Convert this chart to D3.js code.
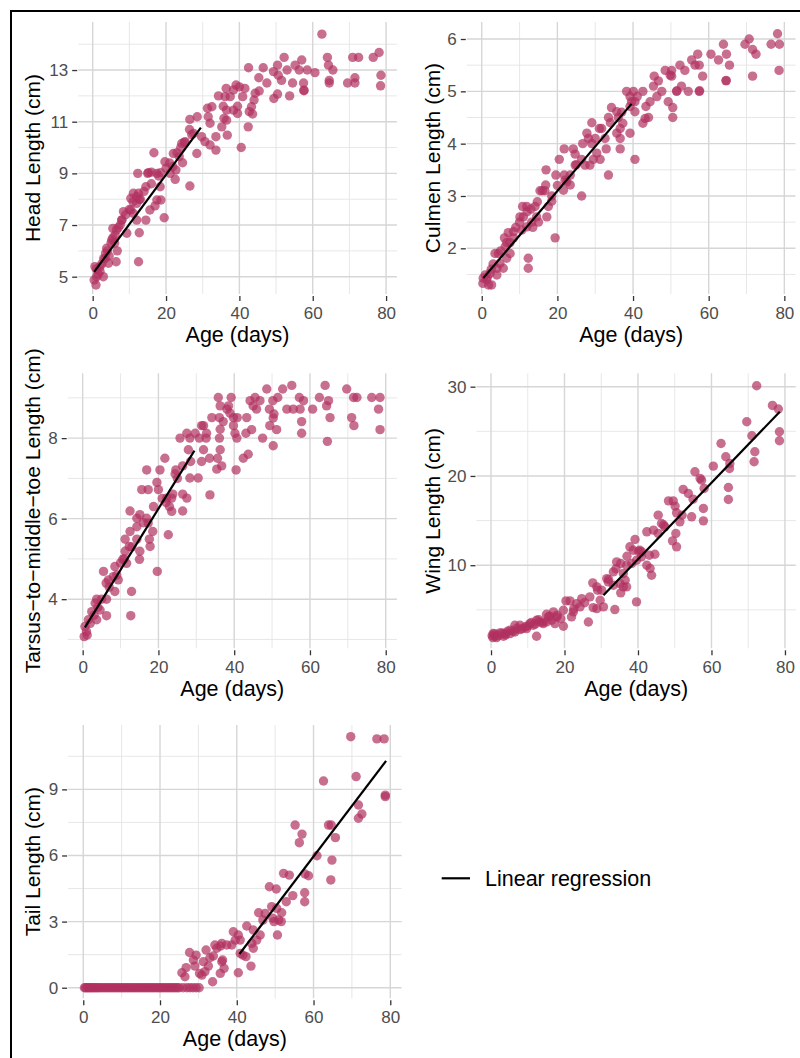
<!DOCTYPE html>
<html>
<head>
<meta charset="utf-8">
<script src="https://cdn.jsdelivr.net/npm/d3@7"></script>
<style>
  body { margin: 0; background: #fff; }
  svg { display: block; font-family: "Liberation Sans", Arial, Helvetica, sans-serif; }
</style>
</head>
<body>
<div id="chart"></div>
<script>
// ---- data: [age (days), length (cm)] ----
const headData = [
  [62.5,14.39],[78.1,13.68],[76.5,13.49],[70.9,13.49],[72.5,13.49],[52.2,13.49],[57,13.39],[64,13.49],
  [64.3,13.19],[65.5,13],[78.6,12.8],[78.5,12.39],[71.5,12.7],[71.5,12.5],[69.5,12.5],[64.5,12.6],
  [64.5,12.5],[60.6,12.9],[58.5,13],[56.3,13],[55.2,13.19],[53,13],[50.4,13.19],[49.3,12.94],
  [51.5,12.6],[50.6,12.8],[57.5,12.5],[57.6,12.2],[57.6,12.22],[54.5,12.5],[53.7,12],[50.4,12.07],
  [49.4,11.9],[47.5,12.5],[46.5,13.09],[45.3,12.7],[42.5,13.09],[45.4,12.19],[44.3,12.1],[44,11.84],
  [43.3,11.58],[42.7,11.39],[43.6,11.3],[42.4,10.8],[40.5,10],[41.5,12.29],[40.9,11.97],[40,12.35],
  [39.1,12.42],[38.4,12.23],[39.5,11.6],[39.5,11.32],[38.4,11.45],[37.5,11.97],[36.4,12.29],[36.1,11.97],
  [34.3,12],[35.6,11.6],[36.5,11.45],[35.8,11.13],[36.5,11.06],[35.2,10.8],[36.7,10.48],[33.6,10.42],
  [33.6,9.9],[32.5,11.58],[31.3,11.52],[31.5,11.19],[32,10.94],[29.7,10.42],[30.6,10.23],[32,10.1],
  [28.4,9.77],[26.5,11.09],[28.5,11.19],[26.4,10.7],[27.5,10.55],[26.5,8.51],[25.2,10.23],[24.3,10.16],
  [24.5,9.41],[23.6,9.65],[22,9.77],[21.8,9.26],[22.7,9.13],[22.5,8.77],[21.1,9],[19.7,9.45],
  [16.7,9.8],[19.5,7.28],[18.5,9.03],[17.5,9],[15.2,9.03],[12.3,9],[14.5,8.48],[18.4,8.48],
  [18.6,7.97],[17.5,7.97],[17,7.74],[15.6,7.58],[14.5,7.19],[12.7,7.99],[12.5,8.23],[11.1,8.23],
  [10.4,8.03],[12,7.84],[10.4,7.58],[11.1,7.45],[12,7.19],[12.7,6.7],[12.5,5.58],[8.4,7.52],
  [7.9,7.19],[9.3,6.68],[6.5,6.81],[5.5,6.87],[6.1,6.61],[5.2,6.42],[6.7,6],[6.4,5.58],
  [3.8,6.1],[3.4,5.71],[4.3,5.52],[2,5.39],[0.6,5.39],[1.1,5],[2.9,5],[0.4,4.87],[0.9,4.68],
  [1,5.3],[1.5,5.1],[2,5.2],[2.5,5.5],[3,5.7],[3.5,5.9],[4,6.0],[4.5,5.8],[5,6.3],[5.5,6.5],
  [6,6.3],[7,6.9],[7.5,7.0],[8,7.2],[9,7.4],[10,7.6],[11,7.9],[12,8.1],[13,8.0],[14,8.3],
  [16,8.6],[18,8.9],[20,9.2],[21,9.4],[23,9.8],[24,10.0],[25,10.2],[27,10.5],[15,9.0],[16,9.05]
];
const culmenData = [
  [78.2,6.1],[70.7,6.0],[69.6,5.9],[76.5,5.9],[78.7,5.9],[63.9,5.9],[71.6,5.8],[72.5,5.71],
  [78.6,5.4],[71.6,5.29],[60.6,5.71],[57.1,5.71],[62.6,5.6],[64.7,5.71],[65.5,5.5],[64.6,5.2],
  [64.6,5.21],[55.5,5.6],[56.4,5.5],[57.5,5.5],[58.4,5.29],[52.4,5.5],[53.7,5.4],[50.2,5.4],
  [48.5,5.4],[49.8,5.31],[50.2,5.29],[45.6,5.29],[46.7,5.2],[52.8,5.1],[51.5,5.0],[51.6,5.01],
  [54.6,5.0],[57.5,5.0],[57.6,5.01],[45.4,5.1],[47.6,5.0],[46.3,4.9],[44.5,4.8],[43.4,4.71],
  [44.1,4.5],[43.2,4.48],[42.6,4.39],[49.3,4.8],[50.5,4.69],[50.5,4.5],[38.3,5.0],[39.2,4.9],
  [40.1,5.0],[41.1,4.9],[42.6,5.0],[39.6,4.8],[40.5,4.8],[39.2,4.71],[40.5,4.61],[39.2,4.2],
  [40.5,3.7],[34.3,4.69],[35.7,4.61],[36.1,4.5],[37.3,4.39],[36.6,4.29],[35.7,4.2],[36.6,4.1],
  [36.6,3.9],[33.5,4.5],[31.7,4.29],[31.1,4.29],[32.6,4.1],[32.9,3.9],[33.5,3.4],[29.1,4.4],
  [27.8,4.2],[28.2,4.1],[26.7,4.0],[29.1,4.0],[30.4,3.82],[31.3,3.7],[29.5,3.7],[26.4,3.7],
  [27.3,3.59],[28.6,3.59],[26.4,3.0],[24.2,3.9],[24.7,3.8],[21.8,3.9],[20.5,3.7],[24.7,3.59],
  [23.4,3.4],[21.8,3.4],[22.5,3.27],[23.4,3.21],[21.6,3.11],[19.6,3.4],[17,3.5],[16.9,3.21],
  [15.4,3.1],[16.7,3.1],[18.5,3.0],[18.5,2.9],[17.6,2.8],[17.2,2.6],[14.7,2.89],[14.1,2.8],
  [14.5,2.6],[15,2.5],[13.2,2.5],[11.9,2.8],[10.8,2.8],[10.1,2.6],[11.9,2.41],[10.6,2.35],
  [13.5,2.4],[19.4,2.2],[12.3,1.81],[12.3,1.62],[8.4,2.32],[8.4,2.2],[7.5,2.11],[6.6,2.11],
  [6.2,2.03],[7.5,1.9],[6.6,1.81],[3.5,1.9],[4.4,1.9],[4.8,1.71],[5.7,1.62],[4,1.62],
  [2.2,1.52],[4,1.49],[0.9,1.49],[1.3,1.4],[0.3,1.33],[1.8,1.3],[2.6,1.3],[0.4,1.43],
  [1.5,1.45],[2.5,1.6],[3,1.7],[5,1.95],[6,2.2],[7,2.3],[9,2.4],[10,2.5],[11,2.6],[12,2.7],
  [13,2.75],[16,3.1],[20,3.2],[22,3.3],[25,3.6],[30,4.1],[34,4.4],[37,4.6]
];
const tarsusData = [
  [55.2,9.31],[64,9.31],[69.7,9.22],[48.6,9.22],[52.8,9.22],[71.5,9.01],[72.4,9.01],[76.3,9.01],
  [78.5,9.01],[78.1,8.72],[78.5,8.21],[71,8.51],[71.6,8.31],[62.5,9.01],[64.9,8.93],[64.4,8.8],
  [65.3,8.51],[64.6,7.92],[60.7,8.72],[58.3,8.93],[57.2,9.01],[57.4,8.72],[55.6,8.72],[53.9,8.72],
  [57.8,8.41],[57.8,8.12],[51.5,9.01],[50.2,8.93],[49.3,8.72],[50.5,8.6],[50.3,8.5],[49.4,8.31],
  [51.2,8.21],[50.3,7.81],[47.5,8.0],[45.5,9.01],[44.2,8.93],[46.8,8.93],[45.9,8.72],[45,8.8],
  [43.3,8.51],[44.6,8.21],[43.1,8.12],[43.7,7.6],[42.4,7.5],[40.5,7.21],[40.8,8.51],[39.8,8.51],
  [39.2,9.01],[38.9,8.62],[38.5,8.8],[38.1,8.72],[39.8,8.31],[40.7,8.0],[40.2,8.12],[35.8,9.01],
  [36.3,8.8],[37.1,8.41],[36.1,8.51],[34.1,8.51],[36.3,8.22],[36.1,8.0],[36.3,7.71],[36.7,7.31],
  [35.4,7.23],[35.6,7.5],[33.5,7.5],[33.6,6.59],[31.4,8.31],[31.9,8.31],[32.7,8.12],[32.6,8.0],
  [30.8,8.0],[31.9,7.71],[31.4,7.42],[30.5,7.01],[29.7,8.12],[28.3,8.0],[27.5,8.12],[25.7,8.0],
  [28.3,7.01],[28.5,7.42],[27.9,7.71],[26.4,7.31],[24.6,7.21],[24.4,7.11],[26.4,6.61],[27.5,6.51],
  [26.4,6.19],[23.8,6.61],[23.5,6.51],[22.9,6.3],[23.5,6.18],[21.7,7.5],[20.4,7.21],[19.6,6.9],
  [20,6.72],[18.7,6.3],[22.2,6.51],[16.9,7.21],[17.3,6.72],[15.6,6.72],[15.1,6.1],[16.9,6.01],
  [17.3,5.89],[18.5,5.68],[17.6,5.49],[17.8,5.31],[22.6,5.6],[19.7,4.69],[12.5,6.19],[14.3,6.01],
  [14.3,5.8],[12.5,5.68],[11.2,5.49],[12.3,5.31],[14.3,5.49],[15.1,5.19],[15,4.99],[11.2,5.19],
  [10.6,4.99],[11.6,4.89],[8.5,4.81],[9.4,4.48],[8.1,4.56],[6.8,4.48],[5.5,4.69],[6.2,4.4],
  [6.3,4.0],[8.5,4.19],[12.9,4.19],[12.7,3.59],[6.3,3.59],[3.7,4.0],[3.3,3.9],[4.6,3.73],
  [2.4,3.69],[3.7,3.49],[1.5,3.49],[0.6,3.32],[1.2,3.11],[0.4,3.07],[1,3.2],[2,3.4],[3,3.6],
  [4,3.8],[5,4.0],[7,4.3],[9,4.6],[10,4.9],[11,5.0],[13,5.3],[16,5.9],[21,6.5],[22,6.4],[25,7.0]
];
const wingData = [
  [72.3,30.1],[76.6,27.9],[78.2,27.5],[78.5,24.95],[78.5,23.94],[69.6,26.07],[71,24.5],[71.8,22.71],
  [71.6,21.59],[62.6,23.64],[63.9,22.15],[65,21.4],[64.9,20.84],[64.6,18.71],[64.6,17.36],[60.5,21.1],
  [55.5,20.47],[56.9,19.72],[57.3,19.53],[58,18.6],[57.8,16.36],[57.8,14.97],[52.3,18.49],[53.7,18.04],
  [54.6,15.42],[48.3,17.21],[49.6,17.21],[50.1,16.62],[50.5,15.87],[51.4,14.86],[50.3,13.55],[49.4,12.73],
  [50.5,12.06],[45.5,15.61],[46.4,14.67],[47.3,14.3],[44.2,13.93],[42.4,13.74],[45.5,13.55],[44.6,11.23],
  [43.1,11.12],[42.4,10],[43.3,9.63],[43.7,8.88],[39.6,5.89],[39.2,12.88],[37.8,12.06],[38.7,11.68],
  [40.1,11.57],[40.5,11.68],[40.9,10.93],[39.6,10.56],[38.3,10.19],[36.9,10],[34.2,10.37],[35.3,10.19],
  [33.3,9.25],[36,9.07],[36.5,8.32],[35.1,7.94],[36,7.57],[36.9,7.57],[35.3,6.9],[31.5,8.5],
  [31.9,8.13],[33.3,7.76],[33.7,5.03],[27.7,8.02],[28.8,7.57],[30.1,7.2],[29.7,6.07],[28.8,5.14],
  [26.9,6.45],[27.8,5.25],[30.6,5.33],[26.5,3.64],[24.7,6.26],[23.3,5.7],[24.2,5.33],[22.4,4.77],
  [21.5,6.0],[21.9,4.21],[20.4,6.0],[19.7,4.95],[19.7,3.16],[17.9,4.21],[17,4.77],[16.5,3.83],
  [17.4,3.46],[15.6,4.21],[15.1,3.64],[13.3,3.64],[12.4,3.83],[11.5,3.27],[12.4,2.04],[10.6,3.46],
  [9.3,3.08],[7.9,2.78],[6.5,3.27],[6.5,2.52],[5.2,2.71],[3.8,2.34],[2.4,2.41],[1.1,2.04],
  [0.6,2.34],[0.5,1.89],[1.5,1.89],[3.4,2.04],[5.2,2.34],[7.9,3.27],[9.7,2.9],[14.2,3.46],
  [15.1,4.5],[0.3,2.1],[1,2.3],[2,2.1],[3,2.4],[4,2.2],[4.5,2.6],[6,2.6],[7,2.9],[8.5,2.9],
  [10,3.2],[11,3.6],[12,3.4],[13,3.9],[14,3.6],[16,4.3],[18,4.4],[19,4.0],[22.5,5.1],[25.5,5.8],
  [29,7.2],[32,8.4],[34,9.6],[37,11.0],[41,11.5],[47,14.5],[52,15.6],[55,17.4]
];
const tailZeroAges = [
  0.3,0.6,1,1.3,1.7,2,2.4,2.8,3.2,3.6,4,4.5,5,5.5,6,6.5,7,7.5,8,8.5,9,9.5,10,10.5,11,11.5,
  12,12.5,13,13.5,14,14.5,15,15.5,16,16.5,17,17.5,18,18.5,19,19.5,20,20.5,21,21.5,22,22.5,
  23,23.5,24,24.5,25,26,27,27.8,28.6,29.4,30.2
];
const tailData = [
  [69.7,11.39],[76.5,11.29],[78.4,11.29],[71.1,9.58],[62.6,9.38],[78.7,8.74],[78.7,8.67],[71.7,8.29],
  [72.6,7.88],[71.7,7.69],[55.2,7.38],[57,6.97],[56.3,6.58],[63.9,7.38],[64.6,7.38],[65.7,6.81],
  [60.9,5.99],[64.8,5.79],[64.5,4.89],[52.2,5.19],[53.7,5.11],[57.8,5.16],[58.7,5.08],[48.5,4.58],
  [50.3,4.48],[54.6,4.18],[52.9,3.9],[57.7,4.31],[57.7,3.9],[45.7,3.4],[47.4,3.37],[49.1,3.68],
  [50.4,3.6],[51.7,3.4],[49.4,3.15],[50.9,3.07],[49.7,3.0],[51.6,3.0],[46.8,3.07],[50.6,2.39],
  [42.6,2.8],[44.3,2.62],[46.1,2.39],[45.2,2.16],[43.9,2.01],[44.3,1.79],[43.7,0.98],[42.4,1.41],
  [39.1,2.54],[40.4,2.39],[40.9,2.16],[39.6,2.16],[38.7,1.94],[40.9,1.56],[41.6,1.48],[40.4,0.68],
  [36.1,2.01],[37.4,1.94],[35.7,1.89],[34.8,1.79],[36.3,1.26],[36.1,1.18],[36.7,0.88],[35.7,0.65],
  [34.3,1.94],[33.9,1.44],[33,1.36],[33.7,0.27],[32,1.71],[31.3,1.18],[32.6,0.98],[30.9,0.57],
  [30.3,0.65],[31.7,0.73],[29.4,1.48],[28.7,1.26],[29.1,0.98],[27.7,1.6],[26.8,0.91],[25.7,0.68],
  [26.5,0.5]
].concat(tailZeroAges.map(a => [a, 0]));

// regression segments (endpoints)
const headFit   = [[0.4,5.19],[29.5,10.77]];
const culmenFit = [[0.4,1.43],[39.6,4.76]];
const tarsusFit = [[0.6,3.30],[29.5,7.69]];
const wingFit   = [[30.6,6.64],[78.6,27.2]];
const tailFit   = [[40.7,1.53],[78.9,10.29]];

// ticks
const ageTicks = [0,20,40,60,80];
const ageMinor = [10,30,50,70];
const headTicks = [5,7,9,11,13],   headMinor = [6,8,10,12,14];
const culmenTicks = [2,3,4,5,6],   culmenMinor = [1.5,2.5,3.5,4.5,5.5];
const tarsusTicks = [4,6,8],       tarsusMinor = [3,5,7,9];
const wingTicks = [10,20,30],      wingMinor = [5,15,25];
const tailTicks = [0,3,6,9],       tailMinor = [1.5,4.5,7.5,10.5];

const yTitles = ["Head Length (cm)", "Culmen Length (cm)", "Tarsus\u2212to\u2212middle\u2212toe Length (cm)",
                 "Wing Length (cm)", "Tail Length (cm)"];
const xTitle = "Age (days)";
const legendLabel = "Linear regression";

// ---- layout ----
const W = 800, H = 1058;
const POINT = "#B03060";
const FONT = "Liberation Sans, Arial, Helvetica, sans-serif";

const panels = [
  {data: headData,   fit: headFit,   ticks: headTicks,   minor: headMinor,   title: yTitles[0],
   left: 78.2, right: 396.9, top: 22, bottom: 294, yDom: [4.33, 14.86], titleX: 39.5},
  {data: culmenData, fit: culmenFit, ticks: culmenTicks, minor: culmenMinor, title: yTitles[1],
   left: 466.8, right: 795.5, top: 22, bottom: 294, yDom: [1.127, 6.325], titleX: 439.5},
  {data: tarsusData, fit: tarsusFit, ticks: tarsusTicks, minor: tarsusMinor, title: yTitles[2],
   left: 67.7, right: 396.9, top: 373.3, bottom: 648.3, yDom: [2.78, 9.61], titleX: 39.5},
  {data: wingData,   fit: wingFit,   ticks: wingTicks,   minor: wingMinor,   title: yTitles[3],
   left: 476.5, right: 795.8, top: 373.3, bottom: 648.3, yDom: [0.69, 31.5], titleX: 439.5},
  {data: tailData,   fit: tailFit,   ticks: tailTicks,   minor: tailMinor,   title: yTitles[4],
   left: 68.1, right: 401.6, top: 725, bottom: 998.3, yDom: [-0.48, 11.92], titleX: 39.5}
];

const svg = d3.select("#chart").append("svg")
  .attr("width", W).attr("height", H);

panels.forEach(p => {
  const x = d3.scaleLinear().domain([-3.95, 82.95]).range([p.left, p.right]);
  const y = d3.scaleLinear().domain(p.yDom).range([p.bottom, p.top]);
  const g = svg.append("g");

  // minor grid
  g.selectAll(".vmin").data(ageMinor).join("line")
    .attr("x1", d => x(d)).attr("x2", d => x(d)).attr("y1", p.top).attr("y2", p.bottom)
    .attr("stroke", "#E4E4E4").attr("stroke-width", 0.9);
  g.selectAll(".hmin").data(p.minor).join("line")
    .attr("x1", p.left).attr("x2", p.right).attr("y1", d => y(d)).attr("y2", d => y(d))
    .attr("stroke", "#E4E4E4").attr("stroke-width", 0.9);
  // major grid
  g.selectAll(".vmaj").data(ageTicks).join("line")
    .attr("x1", d => x(d)).attr("x2", d => x(d)).attr("y1", p.top).attr("y2", p.bottom)
    .attr("stroke", "#D6D6D6").attr("stroke-width", 1.4);
  g.selectAll(".hmaj").data(p.ticks).join("line")
    .attr("x1", p.left).attr("x2", p.right).attr("y1", d => y(d)).attr("y2", d => y(d))
    .attr("stroke", "#D6D6D6").attr("stroke-width", 1.4);

  // axes via d3 axis generators
  const xAxis = g.append("g").attr("transform", `translate(0,${p.bottom + 2})`)
    .call(d3.axisBottom(x).tickValues(ageTicks).tickFormat(d3.format("d")).tickSize(5).tickPadding(6));
  const yAxis = g.append("g").attr("transform", `translate(${p.left - 1},0)`)
    .call(d3.axisLeft(y).tickValues(p.ticks).tickFormat(d3.format("d")).tickSize(5).tickPadding(4));
  [xAxis, yAxis].forEach(a => {
    a.select(".domain").remove();
    a.selectAll(".tick line").attr("stroke", "#333").attr("stroke-width", 1.3);
    a.selectAll(".tick text").attr("fill", "#4D4D4D").attr("font-size", 17)
      .attr("font-family", FONT);
  });

  // points
  g.selectAll("circle").data(p.data).join("circle")
    .attr("cx", d => x(d[0])).attr("cy", d => y(d[1])).attr("r", 4.7)
    .attr("fill", POINT).attr("fill-opacity", 0.7);

  // regression line
  g.append("path").datum(p.fit)
    .attr("d", d3.line().x(d => x(d[0])).y(d => y(d[1])))
    .attr("stroke", "#000").attr("stroke-width", 2.2).attr("fill", "none");

  // titles
  g.append("text").attr("x", (p.left + p.right) / 2).attr("y", p.bottom + 48)
    .attr("text-anchor", "middle").attr("font-size", 21.5).attr("fill", "#000").text(xTitle);
  g.append("text")
    .attr("transform", `translate(${p.titleX},${(p.top + p.bottom) / 2}) rotate(-90)`)
    .attr("text-anchor", "middle").attr("font-size", 21).attr("fill", "#000").text(p.title);
});

// legend
const lg = svg.append("g").attr("transform", "translate(441.7,878.3)");
lg.append("line").attr("x1", 0).attr("x2", 28.3).attr("y1", 0).attr("y2", 0)
  .attr("stroke", "#000").attr("stroke-width", 2.2);
lg.append("text").attr("x", 43.3).attr("y", 7.8).attr("font-size", 21.5).attr("fill", "#000")
  .text(legendLabel);

// outer frame (right/bottom edges fall outside the picture)
svg.append("rect").attr("x", 11).attr("y", 11).attr("width", 900).attr("height", 1200)
  .attr("fill", "none").attr("stroke", "#000").attr("stroke-width", 2);
</script>
</body>
</html>
